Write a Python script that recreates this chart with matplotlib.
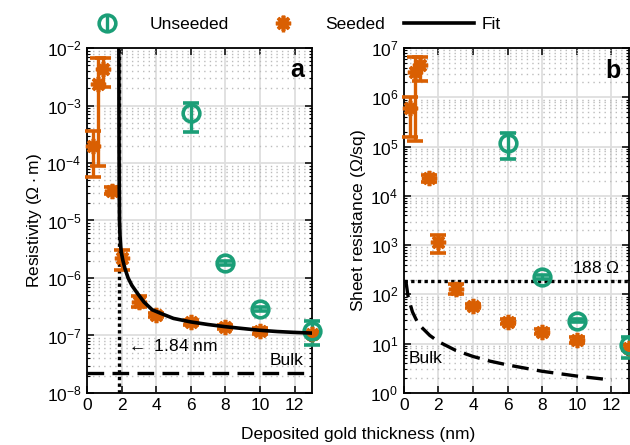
import matplotlib
matplotlib.use('Agg')
import matplotlib.pyplot as plt
from matplotlib.lines import Line2D
from matplotlib.ticker import LogLocator, MultipleLocator, NullFormatter

plt.rcParams['font.family'] = ['Liberation Sans', 'DejaVu Sans']
plt.rcParams['mathtext.default'] = 'regular'
plt.rcParams['font.size'] = 12

# colours
C_UN = '#1b9e77'
C_SE = '#d95f02'
STAR = (8, 2, 0)

# seeded samples (thickness in nm)
seed_t = [0.35, 0.65, 0.95, 1.45, 2, 3, 4, 6, 8, 10, 13]
seed_rho = [2.0e-4, 2.4e-3, 4.3e-3, 3.3e-5, 2.25e-6, 3.8e-7, 2.3e-7, 1.7e-7, 1.4e-7, 1.19e-7, 1.08e-7]
seed_rho_lo = [5.8e-5, 8.9e-5, 2.1e-3, 2.9e-5, 1.35e-6, 3.1e-7, 2.1e-7, 1.55e-7, 1.3e-7, 1.05e-7, 1.0e-7]
seed_rho_hi = [3.6e-4, 6.6e-3, 6.6e-3, 3.8e-5, 3.1e-6, 4.9e-7, 2.5e-7, 1.85e-7, 1.5e-7, 1.33e-7, 1.16e-7]
seed_rs = [6e5, 3.3e6, 4.5e6, 2.3e4, 1.15e3, 1.27e2, 58, 28, 17.5, 12, 8.3]
seed_rs_lo = [1.6e5, 1.3e5, 2.1e6, 1.9e4, 6.9e2, 1.0e2, 52, 25, 16, 10.5, 7.5]
seed_rs_hi = [1e6, 6.7e6, 6.7e6, 2.7e4, 1.6e3, 1.6e2, 65, 32, 19.5, 13.5, 9.2]

# unseeded samples
un_t = [6, 8, 10, 13]
un_rho = [7.4e-4, 1.8e-6, 2.9e-7, 1.18e-7]
un_rho_lo = [3.4e-4, 1.65e-6, 2.7e-7, 6.7e-8]
un_rho_hi = [1.1e-3, 1.95e-6, 3.1e-7, 1.75e-7]
un_rs = [1.2e5, 2.25e2, 29, 9.2]
un_rs_lo = [5.5e4, 2.05e2, 27, 5.2]
un_rs_hi = [1.85e5, 2.45e2, 31, 13.5]

# fit curve
fit_t = [1.845, 1.85, 1.855, 1.865, 1.88, 1.91, 1.95, 1.99, 2.08, 2.2, 2.38, 2.6, 2.9,
         3.3, 3.77, 4.3, 5, 6, 7, 8, 9, 10, 11, 12, 13]
fit_rho = [1e-2, 1e-3, 2e-4, 4e-5, 1e-5, 5.5e-6, 3.6e-6, 2.75e-6, 2.0e-6, 1.45e-6, 1.0e-6,
           7.4e-7, 5.5e-7, 3.8e-7, 2.8e-7, 2.4e-7, 1.98e-7, 1.72e-7, 1.55e-7, 1.42e-7,
           1.32e-7, 1.23e-7, 1.17e-7, 1.13e-7, 1.1e-7]

# bulk gold
bulk_rho = 2.23e-8
t_crit = 1.84
bulk_t = [0.117, 0.25, 0.5, 0.75, 1, 1.5, 2, 3, 4, 5, 6, 8, 10, 12]
bulk_rs = [188, 88, 44, 29, 22, 14.7, 11, 7.3, 5.5, 4.4, 3.7, 2.75, 2.2, 1.83]
r_free = 188


def errs(v, lo, hi):
    return [[a - b for a, b in zip(v, lo)], [b - a for a, b in zip(v, hi)]]


def draw_points(ax, t, v, lo, hi, color, marker, ms, mfc):
    ax.errorbar(t, v, yerr=errs(v, lo, hi), ls='none', marker=marker, color=color, ms=ms,
                mfc=mfc, mec=color, mew=2.6, elinewidth=2.4, capsize=5.5, capthick=2.4,
                clip_on=False, zorder=4)


def style_axis(ax):
    ax.set_yscale('log')
    ax.set_xlim(0, 13)
    ax.xaxis.set_major_locator(MultipleLocator(2))
    ax.yaxis.set_major_locator(LogLocator(base=10, numticks=20))
    ax.yaxis.set_minor_locator(LogLocator(base=10, subs=range(2, 10), numticks=20))
    ax.yaxis.set_minor_formatter(NullFormatter())
    ax.grid(True, which='major', color='#dedede', lw=1.3, zorder=0)
    ax.grid(True, which='minor', axis='y', color='#bcbcbc', lw=1.0, ls=(0, (1, 3)), zorder=0)
    ax.tick_params(which='both', direction='in', top=True, right=True)
    ax.tick_params(which='major', length=5, width=1.1, labelsize=12.5, pad=4)
    ax.tick_params(which='minor', length=2.5, width=0.8)
    for s in ax.spines.values():
        s.set_linewidth(1.3)
    ax.set_axisbelow(True)


fig = plt.figure(figsize=(6.3, 4.45), dpi=100)
ax1 = fig.add_axes([0.138, 0.117, 0.357, 0.775])
ax2 = fig.add_axes([0.641, 0.117, 0.357, 0.775])

# panel a: resistivity
style_axis(ax1)
ax1.set_ylim(1e-8, 1e-2)
ax1.axvline(t_crit, color='black', lw=2.4, ls=(0, (1, 1)), zorder=2)
ax1.axhline(bulk_rho, color='black', lw=2.4, ls=(0, (5, 2.5)), zorder=2)
draw_points(ax1, seed_t, seed_rho, seed_rho_lo, seed_rho_hi, C_SE, STAR, 11, C_SE)
draw_points(ax1, un_t, un_rho, un_rho_lo, un_rho_hi, C_UN, 'o', 12, 'none')
ax1.plot(fit_t, fit_rho, color='black', lw=2.6, zorder=5)
ax1.text(2.2, 6.5e-8, r'$\leftarrow$ 1.84 nm', fontsize=12.5, va='center', ha='left')
ax1.text(12.5, 2.7e-8, 'Bulk', fontsize=12.5, va='bottom', ha='right')
ax1.text(12.55, 4.2e-3, 'a', fontsize=18, fontweight='bold', va='center', ha='right')
ax1.set_ylabel('Resistivity ($\\Omega\\cdot$m)', fontsize=12.5, labelpad=2)

# panel b: sheet resistance
style_axis(ax2)
ax2.set_ylim(1, 1e7)
ax2.axhline(r_free, color='black', lw=2.4, ls=(0, (1, 1)), zorder=2)
ax2.plot(bulk_t, bulk_rs, color='black', lw=2.4, ls=(0, (5, 2.5)), zorder=2)
draw_points(ax2, seed_t, seed_rs, seed_rs_lo, seed_rs_hi, C_SE, STAR, 11, C_SE)
draw_points(ax2, un_t, un_rs, un_rs_lo, un_rs_hi, C_UN, 'o', 12, 'none')
ax2.text(12.5, 240, '188 $\\Omega$', fontsize=12.5, va='bottom', ha='right')
ax2.text(0.3, 3.6, 'Bulk', fontsize=12.5, va='bottom', ha='left')
ax2.text(12.55, 3.4e6, 'b', fontsize=18, fontweight='bold', va='center', ha='right')
ax2.set_ylabel('Sheet resistance ($\\Omega$/sq)', fontsize=12.5, labelpad=2)

fig.text(0.568, 0.006, 'Deposited gold thickness (nm)', fontsize=12.5, ha='center', va='bottom')

# legend across the top
h_un = ax1.errorbar([], [], yerr=[], ls='none', marker='o', color=C_UN, ms=12, mfc='none',
                    mew=2.6, elinewidth=2.4, capsize=5.5, capthick=2.4)
h_se = ax1.errorbar([], [], yerr=[], ls='none', marker=STAR, color=C_SE, ms=11, mew=2.6,
                    elinewidth=2.4, capsize=5.5, capthick=2.4)
h_fit = Line2D([], [], color='black', lw=2.6)
fig.legend([h_un, h_se, h_fit], ['Unseeded', 'Seeded', 'Fit'], ncol=3, frameon=False,
           loc='center left', bbox_to_anchor=(0.115, 0.944), borderpad=0, borderaxespad=0,
           handlelength=4.0, handletextpad=0.45, columnspacing=1.1, fontsize=12.5)

fig.savefig('out.png', dpi=100)
